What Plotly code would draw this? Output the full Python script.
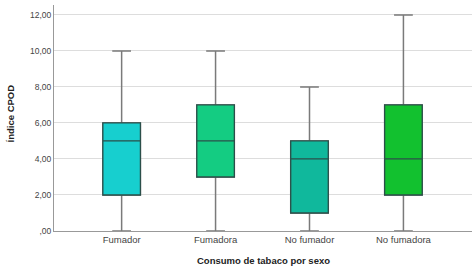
import plotly.graph_objects as go

categories = ["Fumador", "Fumadora", "No fumador", "No fumadora"]
lower = [0, 0, 0, 0]
q1 = [2, 3, 1, 2]
median = [5, 5, 4, 4]
q3 = [6, 7, 5, 7]
upper = [10, 10, 8, 12]
colors = ["#17cfcf", "#14cc82", "#10b89c", "#12c12f"]
tick_vals = [0, 2, 4, 6, 8, 10, 12]
tick_text = [",00", "2,00", "4,00", "6,00", "8,00", "10,00", "12,00"]

fig = go.Figure()
for i, c in enumerate(categories):
    fig.add_trace(go.Box(
        x=[c], q1=[q1[i]], median=[median[i]], q3=[q3[i]],
        lowerfence=[lower[i]], upperfence=[upper[i]],
        fillcolor="rgba(0,0,0,0)", line=dict(color="#7a7a7a", width=1.5),
        whiskerwidth=0.5, width=0.4, showlegend=False, hoverinfo="skip",
    ))
    fig.add_trace(go.Box(
        x=[c], q1=[q1[i]], median=[median[i]], q3=[q3[i]],
        lowerfence=[q1[i]], upperfence=[q3[i]],
        fillcolor=colors[i], line=dict(color="#2b4f4a", width=1.3),
        whiskerwidth=0, width=0.4, showlegend=False,
    ))

fig.update_layout(
    width=474, height=270,
    margin=dict(l=54, r=2, t=5, b=39),
    plot_bgcolor="white", paper_bgcolor="white",
    boxmode="overlay",
    font=dict(family="Liberation Sans, Arial, sans-serif", size=9, color="#333"),
    xaxis=dict(
        categoryorder="array", categoryarray=categories, automargin=False,
        range=[-0.72, 3.73], showline=True, linecolor="#999", linewidth=1,
        ticks="", showgrid=False, ticklabelstandoff=0,
        tickfont=dict(size=9.5, color="#444"),
    ),
    yaxis=dict(
        range=[0, 12.55], tickvals=tick_vals, ticktext=tick_text, automargin=False,
        showline=True, linecolor="#999", linewidth=1,
        gridcolor="#dddddd", gridwidth=1, zeroline=False, ticks="",
        tickfont=dict(size=8.5, color="#444"),
    ),
    annotations=[
        dict(text="<b>Índice CPOD</b>", xref="paper", yref="paper", x=-0.103, y=0.52,
             xanchor="center", yanchor="middle", textangle=-90, showarrow=False,
             font=dict(size=9.5, color="#222")),
        dict(text="<b>Consumo de tabaco por sexo</b>", xref="paper", yref="paper",
             x=0.5, y=-0.13, xanchor="center", yanchor="middle", showarrow=False,
             font=dict(size=9.5, color="#222")),
    ],
)

fig.write_html("out.html", config={"displayModeBar": False},
               post_script="document.body.style.margin='0';document.body.style.padding='0';")
